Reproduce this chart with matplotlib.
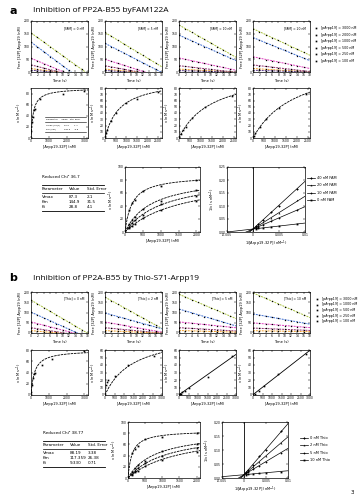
import numpy as np
import matplotlib.pyplot as plt

plt.rcParams['font.family'] = ['DejaVu Sans']
plt.rcParams['axes.linewidth'] = 0.5

W, H = 360, 500
nan = np.nan

# ── Data ──────────────────────────────────────────────────────────────────────

TIME = [0, 2, 4, 6, 8, 10, 12, 14, 16]

# panel a: substrate depletion, one list per substrate level, one block per [FAM122A]
TC_A_0 = [[152, 138, 118, 100, 82, 63, 45, 28, 12],
          [118, 100, 80, 60, 42, 24, 8, nan, nan],
          [55, 44, 32, 22, 12, 3, nan, nan, nan],
          [28, 22, 15, 9, 3, nan, nan, nan, nan],
          [14, 10, 6, 3, 1, nan, nan, nan, nan],
          [7, 5, 3, 1, nan, nan, nan, nan, nan]]
TC_A_5 = [[155, 140, 125, 110, 95, 80, 65, 50, 35],
          [112, 100, 87, 74, 62, 49, 36, 23, 10],
          [50, 42, 34, 26, 18, 10, 3, nan, nan],
          [25, 20, 15, 10, 6, 2, nan, nan, nan],
          [12, 9, 6, 4, 2, nan, nan, nan, nan],
          [6, 4, 3, 1, nan, nan, nan, nan, nan]]
TC_A_10 = [[185, 170, 156, 142, 128, 114, 100, 86, 72],
           [145, 134, 122, 111, 100, 89, 78, 67, 56],
           [55, 50, 44, 39, 34, 28, 23, 18, 12],
           [25, 22, 19, 16, 13, 10, 7, 5, 2],
           [12, 10, 9, 7, 6, 4, 3, 2, 1],
           [6, 5, 4, 3, 3, 2, 1, 1, 0]]
TC_A_20 = [[170, 158, 147, 135, 124, 112, 100, 89, 77],
           [135, 125, 115, 105, 95, 85, 75, 64, 54],
           [60, 55, 49, 44, 39, 34, 29, 24, 19],
           [28, 25, 22, 19, 16, 13, 10, 8, 5],
           [14, 12, 11, 9, 8, 6, 5, 3, 2],
           [7, 6, 5, 5, 4, 3, 2, 2, 1]]
FAM_NOTES = ['[FAM] = 0 nM', '[FAM] = 5 nM', '[FAM] = 10 nM', '[FAM] = 20 nM']
SUBSTRATE_A = ['[pArpp19] = 3000 nM', '[pArpp19] = 2000 nM',
               '[pArpp19] = 1000 nM', '[pArpp19] = 500 nM',
               '[pArpp19] = 250 nM', '[pArpp19] = 100 nM']

# panel b: same layout, one block per [Thio-S71-Arpp19]
TC_B_0 = [[161, 143, 124, 106, 88, 70, 52, 34, 16],
          [102, 88, 74, 60, 46, 32, 18, 5, nan],
          [54, 46, 38, 30, 22, 14, 6, nan, nan],
          [26, 21, 16, 11, 6, 2, nan, nan, nan],
          [12, 9, 6, 3, 1, nan, nan, nan, nan]]
TC_B_2 = [[175, 158, 141, 124, 107, 90, 73, 56, 39],
          [98, 89, 80, 72, 63, 55, 46, 38, 29],
          [54, 48, 42, 37, 31, 26, 21, 15, 10],
          [26, 23, 20, 17, 14, 11, 8, 5, 3],
          [12, 10, 9, 7, 6, 4, 3, 2, 1]]
TC_B_5 = [[188, 175, 163, 150, 137, 124, 110, 96, 83],
          [117, 108, 99, 89, 80, 71, 62, 53, 44],
          [54, 51, 48, 45, 42, 38, 35, 32, 29],
          [26, 24, 23, 21, 19, 17, 15, 13, 12],
          [12, 11, 10, 10, 9, 8, 7, 6, 5]]
TC_B_10 = [[195, 182, 170, 156, 142, 129, 115, 102, 88],
           [93, 88, 82, 76, 71, 65, 60, 54, 49],
           [49, 47, 44, 42, 39, 36, 34, 31, 29],
           [24, 23, 22, 20, 19, 18, 16, 15, 14],
           [11, 11, 10, 10, 9, 9, 8, 8, 7]]
THIO_NOTES = ['[Thio] = 0 nM', '[Thio] = 2 nM', '[Thio] = 5 nM', '[Thio] = 10 nM']
SUBSTRATE_B = ['[pArpp19] = 3000 nM', '[pArpp19] = 1000 nM',
               '[pArpp19] = 500 nM', '[pArpp19] = 250 nM',
               '[pArpp19] = 100 nM']

TC_COLORS = ['#a9c23f', '#3f6fd1', '#e03fbf', '#8e2f6e', '#f0a02a', '#5a3a8a']

# initial rates vs substrate, one plot per inhibitor level
MM_A1_S = [20, 50, 100, 150, 200, 500, 1800, 3000]
MM_A1_V = [12, 28, 38, 50, 53, 71, 80, 84]
MM_A2_S = [20, 60, 100, 300, 500, 1000, 1500, 2500]
MM_A2_V = [3, 8, 13, 28, 40, 56, 62, 73]
MM_A3_S = [20, 100, 200, 300, 600, 1200, 2400]
MM_A3_V = [2, 7, 13, 18, 32, 49, 68]
MM_A4_S = [30, 100, 300, 600, 1200, 2400]
MM_A4_V = [3, 8, 18, 30, 48, 70]
MM_A_VMAX = [90, 95, 110, 130]
MM_A_KM = [130, 700, 1500, 2000]
MM_A_YMAX = [90, 80, 80, 80]

MM_B1_S = [10, 50, 100, 150, 250, 600, 1200, 3000]
MM_B1_V = [5, 18, 30, 37, 40, 53, 64, 78]
MM_B2_S = [50, 100, 150, 500, 1200, 2600]
MM_B2_V = [14, 17, 20, 25, 40, 52]
MM_B3_S = [50, 100, 150, 300, 500, 1500, 2800]
MM_B3_V = [1, 2, 4, 6, 10, 24, 52]
MM_B4_S = [100, 300, 600, 1300, 2800]
MM_B4_V = [2, 6, 12, 28, 55]
MM_B1_FIT = (80, 200)      # Vmax, Km
MM_B2_FIT = (85, 1500)

# global fit, panel a
S_A = [118, 200, 285, 500, 1000, 2000]
V_A_0 = [34, 45, 49, 63, 71, 80]
V_A_10 = [12, 19, 23, 36, 48, 64]
V_A_20 = [8, 14, 18, 26, 43, 55]
V_A_40 = [6, 10, 13, 21, 34, 47]
VMAX_A = 87.3
KM_APP_A = [200, 750, 1100, 1600]
FAM_LEGEND = ['40 nM FAM', '20 nM FAM', '10 nM FAM', '0 nM FAM']
TABLE_A_CHI = 'Reduced Chi² 36.7'
TABLE_A = [['Vmax', '87.3', '2.1'], ['Km', '144.9', '31.5'], ['Ki', '28.8', '4.1']]

# global fit, panel b
S_B = [118, 200, 285, 500, 1000, 2000]
V_B_0 = [45, 52, 57, 70, 74, 80]
V_B_2 = [11, 17, 23, 31, 48, 60]
V_B_5 = [8, 13, 17, 26, 40, 53]
V_B_10 = [6, 10, 13, 21, 33, 47]
VMAX_B = 85.0
KM_APP_B = [120, 800, 1150, 1550]
THIO_LEGEND = ['0 nM Thio', '2 nM Thio', '5 nM Thio', '10 nM Thio']
TABLE_B_CHI = 'Reduced Chi² 38.77'
TABLE_B = [['Vmax', '88.19', '3.38'], ['Km', '117.359', '26.38'], ['Ki', '9.330', '0.71']]

FS_TICK = 2.2
FS_LAB = 2.6


# ── Helpers ───────────────────────────────────────────────────────────────────

def px_axes(fig, x0, y0, x1, y1):
    return fig.add_axes([x0 / W, 1 - y1 / H, (x1 - x0) / W, (y1 - y0) / H])


def style(ax):
    ax.tick_params(direction='in', top=True, right=True, length=1.2, width=0.35,
                   labelsize=FS_TICK, pad=1)
    for s in ax.spines.values():
        s.set_linewidth(0.5)


def time_course(ax, series, note, ylab):
    t = np.array(TIME, float)
    for ys, c in zip(series, TC_COLORS):
        ys = np.array(ys, float)
        ok = ~np.isnan(ys)
        k, b = np.polyfit(t[ok], ys[ok], 1)
        xx = np.array([0, 18])
        ax.plot(xx, k * xx + b, '--', color=c, lw=0.7, dashes=(2, 1))
        ax.plot(t[ok], ys[ok], 's', ms=0.9, color='k', mew=0)
    ax.set_xlim(0, 18)
    ax.set_ylim(0, 200)
    ax.set_xticks(range(0, 19, 2))
    ax.set_yticks([0, 50, 100, 150, 200])
    ax.text(0.93, 0.9, note, transform=ax.transAxes, ha='right', va='top', fontsize=FS_TICK)
    ax.set_xlabel('Time (s)', fontsize=FS_LAB, labelpad=1)
    if ylab:
        ax.set_ylabel('Free [32P] Arpp19 (nM)', fontsize=FS_LAB, labelpad=1)
    style(ax)


def mm_plot(ax, s, v, vmax, km, xmax, ymax, xlab):
    xx = np.linspace(0, xmax, 200)
    ax.plot(xx, vmax * xx / (km + xx), '--', color='k', lw=0.6, dashes=(3, 1))
    ax.plot(s, v, 's', ms=1.2, color='k', mew=0)
    ax.set_xlim(0, xmax)
    ax.set_ylim(0, ymax)
    ax.set_xlabel(xlab, fontsize=FS_LAB, labelpad=1)
    ax.set_ylabel('v (nM s$^{-1}$)', fontsize=FS_LAB, labelpad=1)
    style(ax)


def line_plot(ax, s, v, xmax, ymax, xlab):
    k, b = np.polyfit(s, v, 1)
    xx = np.array([0, xmax])
    ax.plot(xx, k * xx + b, '-', color='k', lw=0.6)
    ax.plot(s, v, 's', ms=1.2, color='k', mew=0)
    ax.set_xlim(0, xmax)
    ax.set_ylim(0, ymax)
    ax.set_xlabel(xlab, fontsize=FS_LAB, labelpad=1)
    ax.set_ylabel('v (nM s$^{-1}$)', fontsize=FS_LAB, labelpad=1)
    style(ax)


def global_mm(ax, s, vs, vmax, kms, ymax, xlab):
    xx = np.linspace(0, 2100, 200)
    for v, km in zip(vs, kms):
        ax.plot(xx, vmax * xx / (km + xx), '--', color='k', lw=0.6, dashes=(3, 1))
        ax.plot(s, v, 's', ms=1.3, color='k', mew=0)
    ax.set_xlim(0, 2100)
    ax.set_ylim(0, ymax)
    ax.set_xticks([0, 500, 1000, 1500, 2000])
    ax.set_xlabel(xlab, fontsize=FS_LAB, labelpad=1)
    ax.set_ylabel('v (nM s$^{-1}$)', fontsize=FS_LAB, labelpad=1)
    style(ax)


def lineweaver(ax, s, vs, vmax, kms, ymax, xlab):
    inv_s = 1 / np.array(s, float)
    xx = np.array([-0.005, 0.01])
    markers = ['s', 'o', '^', 'D']
    for v, km, m in zip(vs, kms, markers):
        ax.plot(xx, km / vmax * xx + 1 / vmax, '-', color='k', lw=0.5)
        ax.plot(inv_s, 1 / np.array(v, float), m, ms=1.3, color='k', mew=0)
    ax.axvline(0, color='k', lw=0.6)
    ax.set_xlim(-0.005, 0.01)
    ax.set_ylim(0, ymax)
    ax.set_xticks([-0.005, 0, 0.005, 0.01])
    ax.set_xticklabels(['-0.005', '0', '0.005', '0.01'])
    ax.set_yticks(np.arange(0, ymax + 0.001, 0.05))
    ax.set_xlabel(xlab, fontsize=FS_LAB, labelpad=1)
    ax.set_ylabel('1/v (s nM$^{-1}$)', fontsize=FS_LAB, labelpad=1)
    style(ax)


def table(ov, x, y, chi, rows):
    ov.text(x, y, chi, fontsize=3, va='center')
    ov.plot([x, x + 62], [y + 8, y + 8], color='k', lw=0.6)
    ov.text(x, y + 12, 'Parameter', fontsize=3, va='center')
    ov.text(x + 27, y + 12, 'Value', fontsize=3, va='center')
    ov.text(x + 45, y + 12, 'Std. Error', fontsize=3, va='center')
    ov.plot([x, x + 62], [y + 16, y + 16], color='k', lw=0.5)
    for i, r in enumerate(rows):
        yy = y + 20 + i * 5
        ov.text(x, yy, r[0], fontsize=3, va='center')
        ov.text(x + 27, yy, r[1], fontsize=3, va='center')
        ov.text(x + 45, yy, r[2], fontsize=3, va='center')
    ov.plot([x, x + 62], [y + 34, y + 34], color='k', lw=0.6)


def marker_legend(ov, x, y, labels, step):
    for i, lab in enumerate(labels):
        ov.plot(x, y + i * step, 's', ms=1.2, color='k', mew=0)
        ov.text(x + 5, y + i * step, lab, fontsize=2.3, va='center')


def line_legend(ov, x, y, labels, step):
    markers = ['D', '^', 'o', 's']
    for i, lab in enumerate(labels):
        yy = y + i * step
        ov.plot([x, x + 8], [yy, yy], color='k', lw=0.5)
        ov.plot(x + 4, yy, markers[i], ms=1.3, color='k', mew=0)
        ov.text(x + 10, yy, lab, fontsize=2.6, va='center')


# ── Figure ────────────────────────────────────────────────────────────────────

fig = plt.figure(figsize=(W / 100, H / 100), dpi=100)
ov = fig.add_axes([0, 0, 1, 1])
ov.set_xlim(0, W)
ov.set_ylim(H, 0)
ov.axis('off')

cols = [31, 105, 179, 253]

# panel a
ov.text(9, 11, 'a', fontsize=8, fontweight='bold', va='center')
ov.text(33, 11, 'Inhibition of PP2A-B55 byFAM122A', fontsize=6, va='center',
        family=['Open Sans', 'DejaVu Sans'])
for i, (x0, tc) in enumerate(zip(cols, [TC_A_0, TC_A_5, TC_A_10, TC_A_20])):
    ax = px_axes(fig, x0, 21, x0 + 57, 72)
    time_course(ax, tc, FAM_NOTES[i], True)
marker_legend(ov, 316, 28, SUBSTRATE_A, 6.6)

mm_a = [(MM_A1_S, MM_A1_V, 3200), (MM_A2_S, MM_A2_V, 2700),
        (MM_A3_S, MM_A3_V, 2600), (MM_A4_S, MM_A4_V, 2600)]
for i, (x0, (s, v, xmax)) in enumerate(zip(cols, mm_a)):
    ax = px_axes(fig, x0, 88, x0 + 57, 138)
    mm_plot(ax, s, v, MM_A_VMAX[i], MM_A_KM[i], xmax, MM_A_YMAX[i], '[Arpp19-32P] (nM)')
    if i == 0:
        # small fit table inside first plot
        for yy in [0.43, 0.33, 0.12]:
            ax.plot([0.25, 0.97], [yy, yy], transform=ax.transAxes, color='k', lw=0.4)
        ax.text(0.26, 0.38, 'Parameter     Value   Std. Error', transform=ax.transAxes,
                fontsize=1.6, va='center')
        ax.text(0.26, 0.26, 'Vmax (nM/s)     90.5       1.7', transform=ax.transAxes,
                fontsize=1.6, va='center')
        ax.text(0.26, 0.18, 'Km (nM)           130.6      8.8', transform=ax.transAxes,
                fontsize=1.6, va='center')

table(ov, 42, 177, TABLE_A_CHI, TABLE_A)
ax = px_axes(fig, 125, 167, 200, 232)
global_mm(ax, S_A, [V_A_0, V_A_10, V_A_20, V_A_40], VMAX_A, KM_APP_A, 100,
          '[Arpp19-32P] (nM)')
ax = px_axes(fig, 227, 167, 305, 232)
lineweaver(ax, S_A, [V_A_0, V_A_10, V_A_20, V_A_40], VMAX_A, KM_APP_A, 0.25,
           '1/[Arpp19-32P] (nM$^{-1}$)')
line_legend(ov, 307, 178, FAM_LEGEND, 7.4)

# panel b
ov.text(9, 278, 'b', fontsize=8, fontweight='bold', va='center')
ov.text(33, 279, 'Inhibition of PP2A-B55 by Thio-S71-Arpp19', fontsize=6, va='center',
        family=['Open Sans', 'DejaVu Sans'])
for i, (x0, tc) in enumerate(zip(cols, [TC_B_0, TC_B_2, TC_B_5, TC_B_10])):
    ax = px_axes(fig, x0, 292, x0 + 57, 333)
    time_course(ax, tc, THIO_NOTES[i], True)
marker_legend(ov, 317, 299, SUBSTRATE_B, 5.5)

ax = px_axes(fig, cols[0], 350, cols[0] + 57, 395)
mm_plot(ax, MM_B1_S, MM_B1_V, MM_B1_FIT[0], MM_B1_FIT[1], 3200, 80, '[Arpp19-32P] (nM)')
ax = px_axes(fig, cols[1], 350, cols[1] + 57, 395)
mm_plot(ax, MM_B2_S, MM_B2_V, MM_B2_FIT[0], MM_B2_FIT[1], 3000, 60, '[Arpp19-32P] (nM)')
ax = px_axes(fig, cols[2], 350, cols[2] + 57, 395)
line_plot(ax, MM_B3_S, MM_B3_V, 3000, 60, '[Arpp19-32P] (nM)')
ax = px_axes(fig, cols[3], 350, cols[3] + 57, 395)
line_plot(ax, MM_B4_S, MM_B4_V, 3000, 60, '[Arpp19-32P] (nM)')

table(ov, 43, 433, TABLE_B_CHI, TABLE_B)
ax = px_axes(fig, 128, 422, 200, 478)
global_mm(ax, S_B, [V_B_0, V_B_2, V_B_5, V_B_10], VMAX_B, KM_APP_B, 100,
          '[Arpp19-32P] (nM)')
ax = px_axes(fig, 222, 422, 288, 478)
lineweaver(ax, S_B, [V_B_0, V_B_2, V_B_5, V_B_10], VMAX_B, KM_APP_B, 0.2,
           '1/[Arpp19-32P] (nM$^{-1}$)')
line_legend(ov, 300, 438, THIO_LEGEND, 7.3)

ov.text(352, 493, '3', fontsize=4, va='center', ha='center')

fig.savefig('out.png', dpi=100)
